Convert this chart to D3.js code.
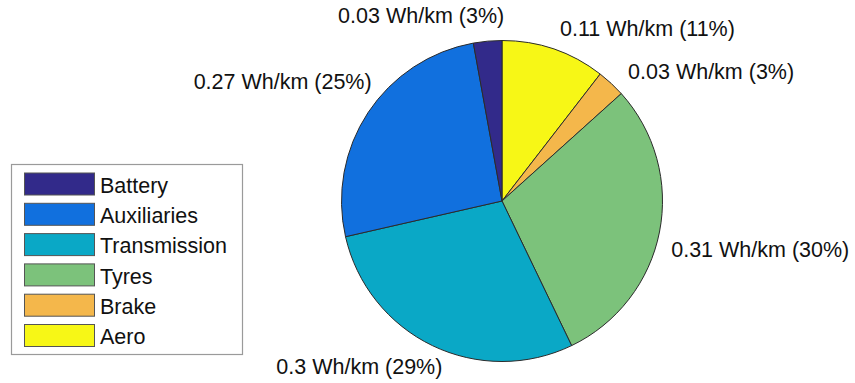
<!DOCTYPE html>
<html>
<head>
<meta charset="utf-8">
<script src="https://cdn.jsdelivr.net/npm/d3@7"></script>
<style>
  html, body { margin: 0; padding: 0; background: #fff; }
  svg { display: block; }
  text { font-family: "Liberation Sans", Arial, sans-serif; fill: #111; }
</style>
</head>
<body>
<svg id="chart" width="855" height="383"></svg>
<script>
// Energy loss per component (Wh/km), clockwise from 12 o'clock
const components = ["Aero", "Brake", "Tyres", "Transmission", "Auxiliaries", "Battery"];
const lossWhKm  = [0.11, 0.03, 0.31, 0.30, 0.27, 0.03];
const shareLabel = ["11%", "3%", "30%", "29%", "25%", "3%"];
const valueLabel = ["0.11", "0.03", "0.31", "0.3", "0.27", "0.03"];
// Legend lists the components in reverse order
const legendOrder = ["Battery", "Auxiliaries", "Transmission", "Tyres", "Brake", "Aero"];

const palette = {
  Battery: "#322a8a",
  Auxiliaries: "#1170de",
  Transmission: "#0aa8c6",
  Tyres: "#7cc27b",
  Brake: "#f4b74b",
  Aero: "#f7f716"
};

// Layout
const cx = 502, cy = 201, radius = 160.5;
const labelRadius = radius * 1.1;
const fontSize = 21.5;
// Per-label offsets that keep neighbouring labels apart
const labelShift = {
  Aero: [1, -6], Brake: [6, 0], Tyres: [-4, 14],
  Transmission: [17, 6], Auxiliaries: [17, -22], Battery: [18, -10]
};

const svg = d3.select("#chart");
const color = d3.scaleOrdinal().domain(components).range(components.map(c => palette[c]));

const rows = components.map((c, i) => ({ name: c, value: lossWhKm[i], i }));
const pie = d3.pie().sort(null).value(d => d.value);
const arcs = pie(rows);
const arc = d3.arc().innerRadius(0).outerRadius(radius);

const g = svg.append("g").attr("transform", `translate(${cx},${cy})`);

g.selectAll("path.slice")
  .data(arcs)
  .enter().append("path")
  .attr("class", "slice")
  .attr("d", arc)
  .attr("fill", d => color(d.data.name))
  .attr("stroke", "#2b2b2b")
  .attr("stroke-width", 1)
  .attr("stroke-linejoin", "round");

// Slice labels, placed along each bisector and anchored away from the pie
g.selectAll("text.lbl")
  .data(arcs)
  .enter().append("text")
  .attr("class", "lbl")
  .each(function(d) {
    const a = (d.startAngle + d.endAngle) / 2;
    const sh = labelShift[d.data.name];
    const x = labelRadius * Math.sin(a) + sh[0];
    const y = -labelRadius * Math.cos(a) + sh[1];
    d3.select(this)
      .attr("x", x)
      .attr("y", y + 0.36 * fontSize)
      .attr("text-anchor", Math.sin(a) >= 0 ? "start" : "end");
  })
  .style("font-size", fontSize + "px")
  .text(d => `${valueLabel[d.data.i]} Wh/km (${shareLabel[d.data.i]})`);

// Legend
const legend = svg.append("g").attr("transform", "translate(11,164)");
const legW = 231, legH = 190, rowStep = 30.3, swW = 70, swH = 22;
legend.append("rect")
  .attr("x", 0.5).attr("y", 0.5)
  .attr("width", legW).attr("height", legH)
  .attr("fill", "#fff").attr("stroke", "#9a9a9a").attr("stroke-width", 1.2);

const y = d3.scalePoint().domain(legendOrder).range([20, 20 + rowStep * (legendOrder.length - 1)]);

const item = legend.selectAll("g.item")
  .data(legendOrder)
  .enter().append("g")
  .attr("class", "item")
  .attr("transform", d => `translate(0,${y(d)})`);

item.append("rect")
  .attr("x", 13.5).attr("y", -swH / 2)
  .attr("width", swW).attr("height", swH)
  .attr("fill", d => color(d))
  .attr("stroke", "#555").attr("stroke-width", 1);

item.append("text")
  .attr("x", 89)
  .attr("y", 1 + 0.36 * fontSize)
  .style("font-size", fontSize + "px")
  .text(d => d);
</script>
</body>
</html>
